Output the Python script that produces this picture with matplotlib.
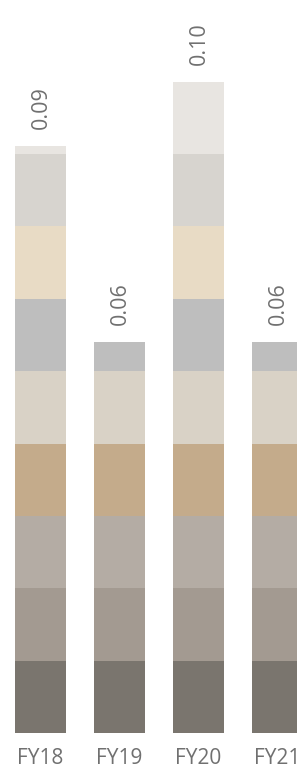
import matplotlib
matplotlib.use("Agg")
import matplotlib.pyplot as plt
import numpy as np

plt.rcParams['font.family'] = ['Open Sans', 'DejaVu Sans']

# data
years = ["FY18", "FY19", "FY20", "FY21"]
seg1 = [0.0111, 0.0111, 0.0111, 0.0111]
seg2 = [0.0111, 0.0111, 0.0111, 0.0111]
seg3 = [0.0111, 0.0111, 0.0111, 0.0111]
seg4 = [0.0111, 0.0111, 0.0111, 0.0111]
seg5 = [0.0111, 0.0111, 0.0111, 0.0111]
seg6 = [0.0111, 0.0045, 0.0111, 0.0045]
seg7 = [0.0111, 0.0, 0.0111, 0.0]
seg8 = [0.0111, 0.0, 0.0111, 0.0]
seg9 = [0.0012, 0.0, 0.0111, 0.0]
segments = [seg1, seg2, seg3, seg4, seg5, seg6, seg7, seg8, seg9]

colors = ["#7a756e", "#a39a91", "#b4aca4", "#c4ab8b", "#d9d2c6",
          "#bebebe", "#e8dbc5", "#d7d4cf", "#e8e5e1"]

W, H = 297, 774
fig = plt.figure(figsize=(W / 100, H / 100), dpi=100)
ax = fig.add_axes([0, (H - 733) / H, 1, 733 / H])

x = np.arange(len(years))
bottom = np.zeros(len(years))
for vals, c in zip(segments, colors):
    ax.bar(x, vals, bottom=bottom, width=51 / 79, color=c, linewidth=0)
    bottom += np.array(vals)

# totals on top
for xi, tot in zip(x, bottom):
    ax.annotate(f"{tot:.2f}", (xi, tot), xytext=(1, 17), textcoords="offset pixels",
                rotation=90, ha="center", va="bottom", fontsize=15.5, color="#707070")

ax.set_xlim(-40.5 / 79, (W - 40.5) / 79)
ax.set_ylim(0, 0.10 * 733 / 652)
ax.set_xticks(x)
ax.set_xticklabels(years, fontsize=15, color="#707070")
ax.tick_params(axis="x", length=0, pad=11)
ax.set_yticks([])
for s in ax.spines.values():
    s.set_visible(False)

fig.savefig("out.png", dpi=100)
